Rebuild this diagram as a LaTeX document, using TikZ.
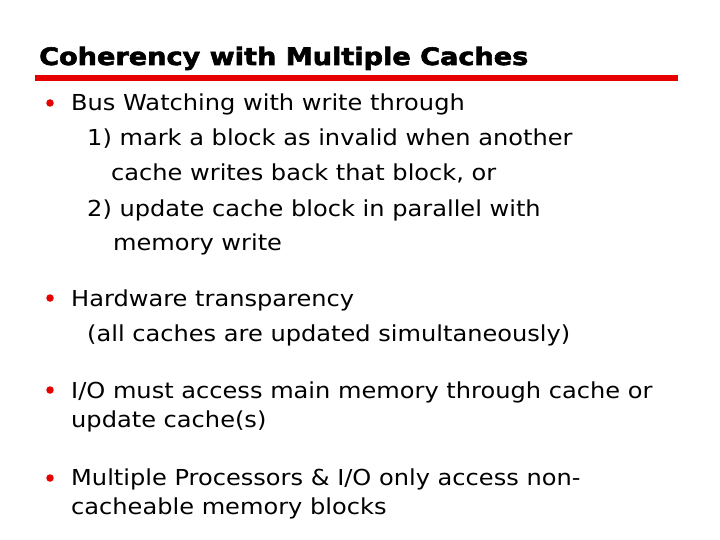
\documentclass[tikz,border=0pt]{standalone}
\usepackage{fontspec}
\setmainfont{DejaVu Sans}[FakeStretch=1.095]
\newfontfamily\titlefont{DejaVu Sans Bold}[FakeStretch=1.13,FakeBold=2.5]
\definecolor{slidered}{RGB}{230,0,0}
\begin{document}
\begin{tikzpicture}[x=1pt,y=-1pt,
  body/.style={anchor=base west,inner sep=0pt,font=\fontsize{22}{26}\selectfont},
  ttl/.style={anchor=base west,inner sep=0pt,font=\titlefont\fontsize{24}{28}\selectfont},
  dot/.style={circle,fill=slidered,inner sep=0pt,minimum size=7.5pt}]
\useasboundingbox[fill=white] (0,0) rectangle (720,540);
\node[ttl] (title) at (39,65) {Coherency with Multiple Caches};
\fill[slidered] (35,75) rectangle (678,81);
\node[dot] (b1) at (50,103) {};
\node[body] (l1) at (71,111) {Bus Watching with write through};
\node[body] (l2) at (87,146) {1) mark a block as invalid when another};
\node[body] (l3) at (111,181) {cache writes back that block, or};
\node[body] (l4) at (87,216) {2) update cache block in parallel with};
\node[body] (l5) at (113,251) {memory write};
\node[dot] (b2) at (50,298) {};
\node[body] (l6) at (71,306) {Hardware transparency};
\node[body] (l7) at (87,341) {(all caches are updated simultaneously)};
\node[dot] (b3) at (50,390) {};
\node[body] (l8) at (71,398) {I/O must access main memory through cache or};
\node[body] (l9) at (71,427) {update cache(s)};
\node[dot] (b4) at (50,478) {};
\node[body] (l10) at (71,485) {Multiple Processors \& I/O only access non-};
\node[body] (l11) at (71,514) {cacheable memory blocks};
\end{tikzpicture}
\end{document}
